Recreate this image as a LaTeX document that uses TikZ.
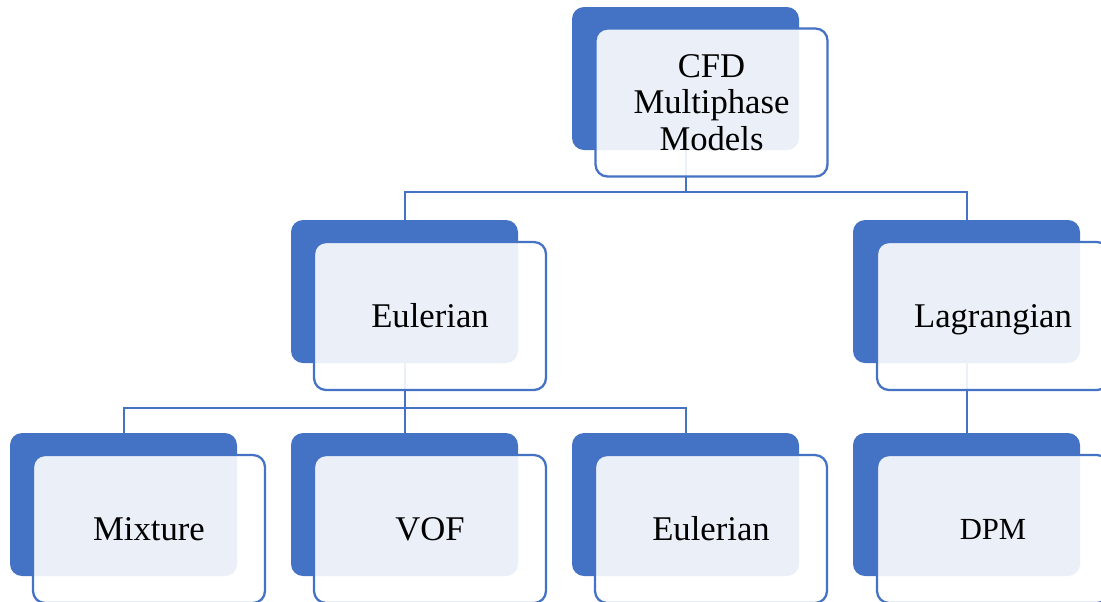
\documentclass[tikz,border=0pt]{standalone}
\usepackage{fontspec}
\setmainfont{Liberation Serif}
\definecolor{accent}{HTML}{4472C4}
\pgfdeclarelayer{bg}
\pgfsetlayers{bg,main}
\begin{document}
\begin{tikzpicture}[x=0.75pt,y=-0.75pt,
  back/.style={fill=accent, rounded corners=9pt, minimum width=170.25pt, minimum height=107.25pt, inner sep=0pt},
  front/.style={fill=white, fill opacity=0.89, text opacity=1, draw=accent, line width=1.7pt,
    rounded corners=9pt, minimum width=174pt, minimum height=111pt, inner sep=0pt,
    font=\fontsize{26}{27.4}\selectfont, text height=17.2pt, text depth=0pt},
  frontmulti/.style={front, text height=, text depth=, align=center},
  small/.style={font=\fontsize{23}{25}\selectfont, text height=15.2pt},
  link/.style={draw=accent, line width=1.5pt}]
\useasboundingbox (0,0) rectangle (1101,601);
\clip (0,0) rectangle (1101,601);
% back rectangles
\node[back] (cfdB) at (685.5,78.5) {};
\node[back] (eulB) at (404.5,291.5) {};
\node[back] (lagB) at (966.5,291.5) {};
\node[back] (mixB) at (123.5,504.5) {};
\node[back] (vofB) at (404.5,504.5) {};
\node[back] (eul2B) at (685.5,504.5) {};
\node[back] (dpmB) at (966.5,504.5) {};
% front rectangles
\node[frontmulti] (cfdF) at (711.5,102.5) {CFD\\Multiphase\\Models};
\node[front] (eulF) at (430,316) {Eulerian};
\node[front] (lagF) at (993,316) {Lagrangian};
\node[front] (mixF) at (149,529) {Mixture};
\node[front] (vofF) at (430,529) {VOF};
\node[front] (eul2F) at (711,529) {Eulerian};
\node[front, small] (dpmF) at (993,529) {DPM};
% connectors
\coordinate (bus1) at (685.5,192);
\coordinate (bus2) at (404.5,408);
\begin{pgfonlayer}{bg}
\draw[link] (cfdB.south) -- (bus1) -| (eulB.north);
\draw[link] (bus1) -| (lagB.north);
\draw[link] (eulB.south) -- (bus2) -| (mixB.north);
\draw[link] (bus2) -- (vofB.north);
\draw[link] (bus2) -| (eul2B.north);
\draw[link] (lagB.south) -- (dpmB.north);
\end{pgfonlayer}
\end{tikzpicture}
\end{document}
